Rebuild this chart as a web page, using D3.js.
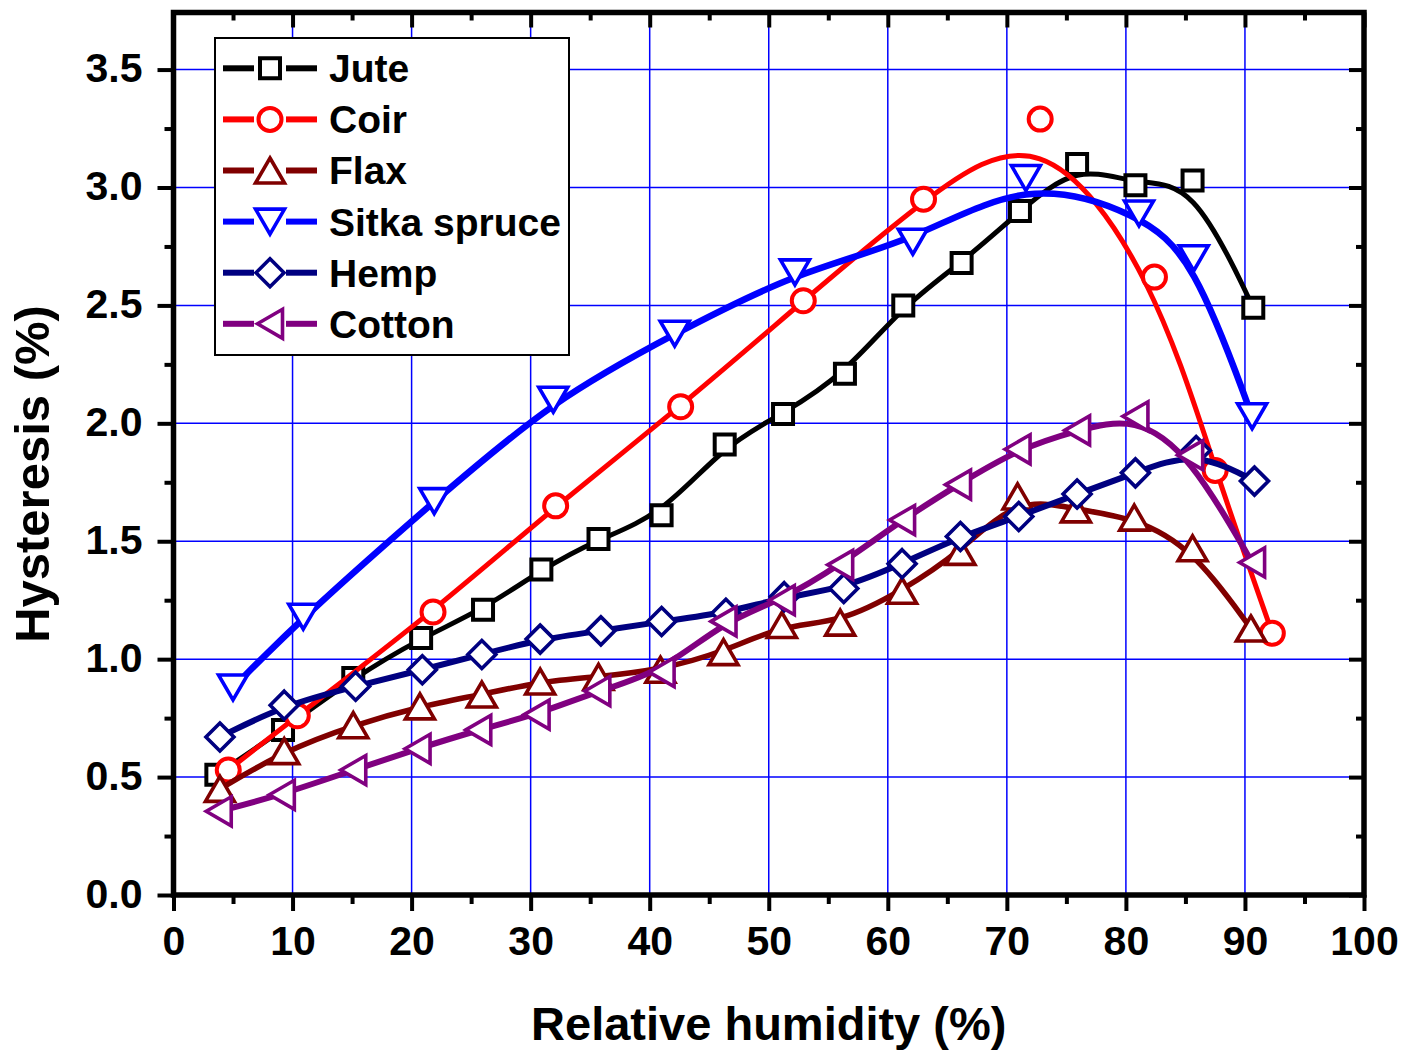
<!DOCTYPE html>
<html>
<head>
<meta charset="utf-8">
<script src="https://cdn.jsdelivr.net/npm/d3@7"></script>
<style>
  html, body { margin: 0; padding: 0; background: #fff; }
  svg { display: block; }
  text { font-family: "Liberation Sans", Arial, sans-serif; font-weight: bold; fill: #000; }
</style>
</head>
<body>
<svg id="chart" width="1410" height="1051"></svg>
<script>
// ---------------- data ----------------
const seriesNames = ["Jute", "Coir", "Flax", "Sitka spruce", "Hemp", "Cotton"];

const juteRH = [3.6, 9.2, 15.1, 20.8, 26.0, 30.9, 35.7, 41.0, 46.3, 51.2, 56.4, 61.3, 66.2, 71.1, 75.9, 80.8, 85.6, 90.7];
const juteH  = [0.51, 0.70, 0.92, 1.09, 1.21, 1.38, 1.51, 1.61, 1.91, 2.04, 2.21, 2.50, 2.68, 2.90, 3.10, 3.01, 3.03, 2.49];

const coirRH = [4.6, 10.4, 21.8, 32.1, 42.6, 52.9, 63.0, 72.8, 82.4, 87.5, 92.3];
const coirH  = [0.53, 0.76, 1.20, 1.65, 2.07, 2.52, 2.95, 3.29, 2.62, 1.80, 1.11];

const flaxRH = [3.9, 9.3, 15.1, 20.7, 25.9, 30.8, 35.7, 40.9, 46.2, 51.1, 56.0, 61.2, 66.1, 70.9, 75.8, 80.7, 85.6, 90.5];
const flaxH  = [0.45, 0.61, 0.72, 0.80, 0.85, 0.905, 0.925, 0.955, 1.03, 1.145, 1.155, 1.29, 1.455, 1.69, 1.635, 1.60, 1.47, 1.13];

const sitkaRH = [5.0, 10.9, 21.9, 31.9, 42.1, 52.2, 62.1, 71.6, 81.1, 85.7, 90.6];
const sitkaH  = [0.88, 1.18, 1.67, 2.10, 2.38, 2.64, 2.77, 3.04, 2.89, 2.70, 2.03];

const hempRH = [3.9, 9.3, 15.3, 20.9, 25.9, 30.8, 35.9, 41.0, 46.4, 51.3, 56.3, 61.2, 66.1, 71.0, 75.9, 80.8, 85.9, 90.8];
const hempH  = [0.67, 0.805, 0.885, 0.955, 1.02, 1.085, 1.12, 1.16, 1.195, 1.265, 1.30, 1.405, 1.52, 1.605, 1.70, 1.79, 1.885, 1.755];

const cottonRH = [3.8, 9.1, 15.1, 20.5, 25.6, 30.5, 35.6, 41.0, 46.2, 51.1, 56.0, 61.2, 65.9, 70.9, 75.9, 80.8, 85.4, 90.6];
const cottonH  = [0.355, 0.425, 0.53, 0.62, 0.70, 0.765, 0.865, 0.945, 1.16, 1.25, 1.40, 1.59, 1.74, 1.89, 1.97, 2.03, 1.865, 1.41];

const xTicks = [0, 10, 20, 30, 40, 50, 60, 70, 80, 90, 100];
const xMinorTicks = [5, 15, 25, 35, 45, 55, 65, 75, 85, 95];
const yTicks = [0, 0.5, 1.0, 1.5, 2.0, 2.5, 3.0, 3.5];
const yTickLabels = ["0.0", "0.5", "1.0", "1.5", "2.0", "2.5", "3.0", "3.5"];
const yMinorTicks = [0.25, 0.75, 1.25, 1.75, 2.25, 2.75, 3.25];
const xDomain = [0, 100];
const yDomain = [0, 3.742];

const xTitle = "Relative humidity (%)";
const yTitle = "Hysteresis (%)";

// ---------------- styles ----------------
const colors  = ["#000000", "#ff0000", "#800000", "#0000ff", "#000080", "#800080"];
const widths  = [5, 5, 5.5, 6.5, 6, 6];
const symbols = ["square", "circle", "triUp", "triDown", "diamond", "triLeft"];

const seriesData = [
  [juteRH, juteH], [coirRH, coirH], [flaxRH, flaxH],
  [sitkaRH, sitkaH], [hempRH, hempH], [cottonRH, cottonH]
].map(([xs, ys]) => xs.map((x, i) => ({ x, y: ys[i] })));

// ---------------- layout ----------------
const L = 173.5, R = 1364, T = 12.5, B = 895;
const svg = d3.select("#chart");
svg.append("rect").attr("width", 1410).attr("height", 1051).attr("fill", "#fff");

const x = d3.scaleLinear().domain(xDomain).range([L, R]);
const y = d3.scaleLinear().domain(yDomain).range([B, T]);

// grid
const grid = svg.append("g");
grid.selectAll(".gx").data(xTicks.filter(d => d > 0 && d < 100)).join("line")
  .attr("x1", d => x(d)).attr("x2", d => x(d)).attr("y1", T).attr("y2", B)
  .attr("stroke", "#0000ff").attr("stroke-width", 1.5);
grid.selectAll(".gy").data(yTicks.filter(d => d > 0)).join("line")
  .attr("x1", L).attr("x2", R).attr("y1", d => y(d)).attr("y2", d => y(d))
  .attr("stroke", "#0000ff").attr("stroke-width", 1.5);

// symbols
function symbolPath(type) {
  switch (type) {
    case "square": { const s = 20; return `M${-s/2},${-s/2}h${s}v${s}h${-s}Z`; }
    case "triUp": { const w = 29, h = 25; return `M0,${-h/2}L${w/2},${h/2}L${-w/2},${h/2}Z`; }
    case "triDown": { const w = 29, h = 25; return `M0,${h/2}L${w/2},${-h/2}L${-w/2},${-h/2}Z`; }
    case "diamond": { const d = 28; return `M0,${-d/2}L${d/2},0L0,${d/2}L${-d/2},0Z`; }
    case "triLeft": { const w = 29, h = 25; return `M${-h/2},0L${h/2},${-w/2}L${h/2},${w/2}Z`; }
  }
}
function drawSymbol(g, type, color, cx, cy) {
  if (type === "circle") {
    g.append("circle").attr("cx", cx).attr("cy", cy).attr("r", 11.5)
      .attr("fill", "#fff").attr("stroke", color).attr("stroke-width", 4);
  } else {
    g.append("path").attr("d", symbolPath(type)).attr("transform", `translate(${cx},${cy})`)
      .attr("fill", "#fff").attr("stroke", color)
      .attr("stroke-width", type === "square" ? 4 : 3.6).attr("stroke-linejoin", "miter");
  }
}

const line = d3.line().x(d => x(d.x)).y(d => y(d.y)).curve(d3.curveBasis);
const plot = svg.append("g");
seriesData.forEach((data, i) => {
  const g = plot.append("g");
  g.append("path").datum(data).attr("d", line)
    .attr("fill", "none").attr("stroke", colors[i]).attr("stroke-width", widths[i])
    .attr("stroke-linejoin", "round");
  data.forEach(d => drawSymbol(g, symbols[i], colors[i], x(d.x), y(d.y)));
});

// axes
const axW = 5.5;
function styleAxis(g) {
  g.select(".domain").remove();
  g.selectAll(".tick line").attr("stroke", "#000").attr("stroke-width", 4);
  g.selectAll("text").style("font-size", "41px").style("font-family", "'Liberation Sans', Arial, sans-serif").style("font-weight", "bold");
}
// bottom
svg.append("g").attr("transform", `translate(0,${B})`)
  .call(d3.axisBottom(x).tickValues(xTicks).tickSize(16).tickPadding(15).tickFormat(d3.format("d")))
  .call(styleAxis);
svg.append("g").attr("transform", `translate(0,${B})`)
  .call(d3.axisBottom(x).tickValues(xMinorTicks).tickSize(9).tickFormat(""))
  .call(styleAxis);
// top (inward)
svg.append("g").attr("transform", `translate(0,${T})`)
  .call(d3.axisBottom(x).tickValues(xTicks).tickSize(15).tickFormat(""))
  .call(styleAxis);
svg.append("g").attr("transform", `translate(0,${T})`)
  .call(d3.axisBottom(x).tickValues(xMinorTicks).tickSize(8).tickFormat(""))
  .call(styleAxis);
// left
svg.append("g").attr("transform", `translate(${L},0)`)
  .call(d3.axisLeft(y).tickValues(yTicks).tickSize(16).tickPadding(15).tickFormat((d, i) => yTickLabels[i]))
  .call(styleAxis)
  .call(g => g.selectAll("text").attr("dy", "0.3em"));
svg.append("g").attr("transform", `translate(${L},0)`)
  .call(d3.axisLeft(y).tickValues(yMinorTicks).tickSize(9).tickFormat(""))
  .call(styleAxis);
// right (inward)
svg.append("g").attr("transform", `translate(${R},0)`)
  .call(d3.axisLeft(y).tickValues(yTicks).tickSize(15).tickFormat(""))
  .call(styleAxis);
svg.append("g").attr("transform", `translate(${R},0)`)
  .call(d3.axisLeft(y).tickValues(yMinorTicks).tickSize(8).tickFormat(""))
  .call(styleAxis);

// frame
svg.append("rect").attr("x", L).attr("y", T).attr("width", R - L).attr("height", B - T)
  .attr("fill", "none").attr("stroke", "#000").attr("stroke-width", axW);

// titles
svg.append("text").attr("x", (L + R) / 2).attr("y", 1040).attr("text-anchor", "middle")
  .style("font-size", "47px").text(xTitle);
svg.append("text").attr("transform", `translate(49,${474}) rotate(-90)`).attr("text-anchor", "middle")
  .style("font-size", "49px").text(yTitle);

// legend
const leg = svg.append("g");
leg.append("rect").attr("x", 215).attr("y", 38).attr("width", 354).attr("height", 317)
  .attr("fill", "#fff").attr("stroke", "#000").attr("stroke-width", 2);
seriesNames.forEach((name, i) => {
  const ry = 68.3 + i * 51.1;
  const g = leg.append("g");
  g.append("line").attr("x1", 223).attr("x2", 254).attr("y1", ry).attr("y2", ry)
    .attr("stroke", colors[i]).attr("stroke-width", 6);
  g.append("line").attr("x1", 286).attr("x2", 317).attr("y1", ry).attr("y2", ry)
    .attr("stroke", colors[i]).attr("stroke-width", 6);
  drawSymbol(g, symbols[i], colors[i], 270, ry);
  g.append("text").attr("x", 329).attr("y", ry).attr("dy", "0.358em")
    .style("font-size", "39px").text(name);
});
</script>
</body>
</html>
